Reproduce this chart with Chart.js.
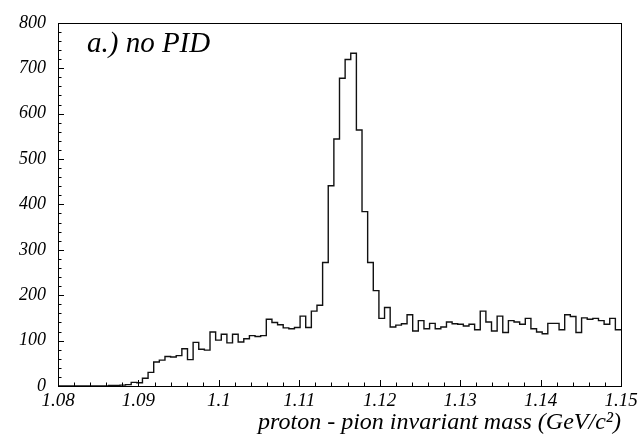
<!DOCTYPE html>
<html>
<head>
<meta charset="utf-8">
<script src="https://cdn.jsdelivr.net/npm/chart.js@4/dist/chart.umd.min.js"></script>
<style>
  html, body { margin: 0; padding: 0; background: #fff; }
  #wrap { width: 642px; height: 446px; }
</style>
</head>
<body>
<div id="wrap"><canvas id="c" width="642" height="446"></canvas></div>
<script>
// ---- data ----
const xMin = 1.08;
const xMax = 1.15;
const counts = [
  0, 0, 0, 0, 0, 0, 0, 0, 0, 1,
  1, 2, 3, 8, 7, 17, 30, 53, 57, 65,
  64, 67, 82, 58, 96, 81, 79, 119, 101, 114,
  95, 114, 97, 104, 111, 109, 111, 147, 140, 135,
  128, 126, 129, 154, 129, 165, 178, 272, 441, 544,
  678, 719, 733, 564, 384, 272, 210, 149, 173, 130,
  134, 137, 157, 121, 144, 126, 138, 126, 130, 141,
  137, 136, 132, 136, 124, 165, 141, 121, 154, 118,
  144, 141, 136, 149, 126, 119, 115, 138, 138, 124,
  157, 153, 118, 150, 147, 149, 144, 136, 149, 124
];
const xTickLabels = ['1.08', '1.09', '1.1', '1.11', '1.12', '1.13', '1.14', '1.15'];
const yTickLabels = ['0', '100', '200', '300', '400', '500', '600', '700', '800'];
const panelLabel = 'a.) no PID';
const xTitle = 'proton - pion invariant mass (GeV/c\u00B2)';

// histogram points at bin low edges, plus closing edge
const nBins = counts.length;
const binW = (xMax - xMin) / nBins;
const points = counts.map((v, i) => ({ x: xMin + i * binW, y: v }));
points.push({ x: xMax, y: counts[nBins - 1] });

const FONT = 'Liberation Serif';

const framePlugin = {
  id: 'frame',
  afterDraw(chart) {
    const { ctx, chartArea: a, scales } = chart;
    ctx.save();
    ctx.strokeStyle = '#000';
    ctx.lineWidth = 1;
    ctx.strokeRect(Math.round(a.left) + 0.5, Math.round(a.top) + 0.5,
                   Math.round(a.right - a.left), Math.round(a.bottom - a.top));
    // y ticks (inside, on left axis)
    const ys = scales.y;
    for (let v = 0; v <= 800; v += 20) {
      const py = Math.round(ys.getPixelForValue(v)) + 0.5;
      const len = (v % 100 === 0) ? 6 : 3.5;
      ctx.beginPath();
      ctx.moveTo(a.left, py);
      ctx.lineTo(a.left + len, py);
      ctx.stroke();
    }
    // x ticks (inside, on bottom axis)
    const xs = scales.x;
    for (let k = 0; k <= 35; k++) {
      const v = xMin + k * 0.002;
      const px = Math.round(xs.getPixelForValue(v)) + 0.5;
      const len = (k % 5 === 0) ? 6 : 3.5;
      ctx.beginPath();
      ctx.moveTo(px, a.bottom);
      ctx.lineTo(px, a.bottom - len);
      ctx.stroke();
    }
    // panel label
    ctx.fillStyle = '#000';
    ctx.font = 'italic 29px "' + FONT + '"';
    ctx.textAlign = 'left';
    ctx.textBaseline = 'alphabetic';
    ctx.fillText(panelLabel, 87, 52);
    ctx.restore();
  }
};

new Chart(document.getElementById('c'), {
  type: 'line',
  data: {
    datasets: [{
      data: points,
      stepped: 'before',
      borderColor: '#111',
      borderWidth: 1.4,
      pointRadius: 0,
      fill: false,
      tension: 0
    }]
  },
  options: {
    responsive: false,
    animation: false,
    devicePixelRatio: 1,
    layout: { padding: { left: 0, right: 21, top: 14, bottom: 0 } },
    plugins: { legend: { display: false }, tooltip: { enabled: false } },
    scales: {
      x: {
        type: 'linear',
        min: xMin,
        max: xMax,
        afterBuildTicks(s) {
          s.ticks = xTickLabels.map(t => ({ value: parseFloat(t) }));
        },
        afterFit(s) { s.height = 60; },
        ticks: {
          callback: (v, i) => xTickLabels[i],
          font: { family: FONT, style: 'italic', size: 19 },
          color: '#000',
          padding: 4,
          maxRotation: 0,
          autoSkip: false
        },
        grid: { display: false, drawTicks: false },
        border: { display: false },
        title: {
          display: true,
          text: xTitle,
          align: 'end',
          color: '#000',
          font: { family: FONT, style: 'italic', size: 24 },
          padding: { top: 0, bottom: 9 }
        }
      },
      y: {
        min: 0,
        max: 800,
        afterBuildTicks(s) {
          s.ticks = yTickLabels.map(t => ({ value: parseFloat(t) }));
        },
        afterFit(s) { s.width = 58; },
        ticks: {
          callback: (v, i) => yTickLabels[i],
          font: { family: FONT, style: 'italic', size: 18 },
          color: '#000',
          padding: 12
        },
        grid: { display: false, drawTicks: false },
        border: { display: false }
      }
    }
  },
  plugins: [framePlugin]
});
</script>
</body>
</html>
